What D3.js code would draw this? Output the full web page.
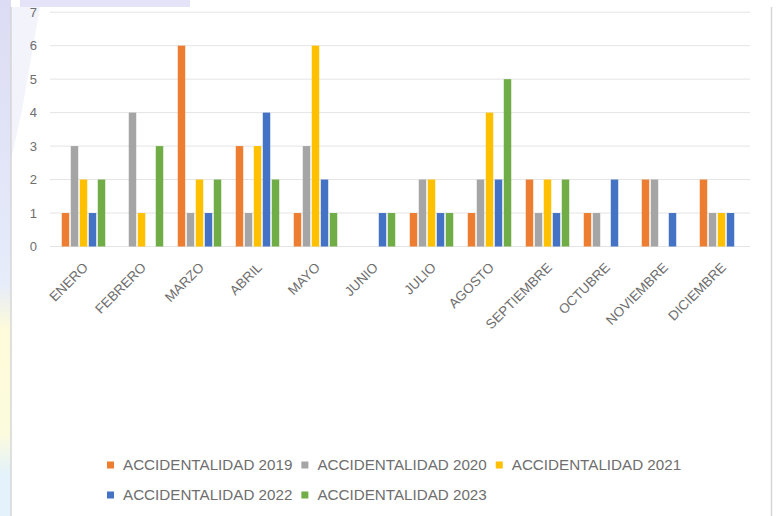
<!DOCTYPE html>
<html>
<head>
<meta charset="utf-8">
<script src="https://cdn.jsdelivr.net/npm/d3@7/dist/d3.min.js"></script>
<style>
  html, body { margin: 0; padding: 0; background: #ffffff; }
  svg { display: block; }
</style>
</head>
<body>
<svg id="chart" width="776" height="516"></svg>
<script>
// ---- data ----
const months = ["ENERO","FEBRERO","MARZO","ABRIL","MAYO","JUNIO","JULIO","AGOSTO","SEPTIEMBRE","OCTUBRE","NOVIEMBRE","DICIEMBRE"];
const seriesNames = ["ACCIDENTALIDAD 2019","ACCIDENTALIDAD 2020","ACCIDENTALIDAD 2021","ACCIDENTALIDAD 2022","ACCIDENTALIDAD 2023"];
const values2019 = [1,0,6,3,1,0,1,1,2,1,2,2];
const values2020 = [3,4,1,1,3,0,2,2,1,1,2,1];
const values2021 = [2,1,2,3,6,0,2,4,2,0,0,1];
const values2022 = [1,0,1,4,2,1,1,2,1,2,1,1];
const values2023 = [2,3,2,2,1,1,1,5,2,0,0,0];
const yTicks = [0,1,2,3,4,5,6,7];
const colors = ["#ED7D31","#A5A5A5","#FFC000","#4472C4","#70AD47"];

const allSeries = [values2019, values2020, values2021, values2022, values2023];

const svg = d3.select("#chart");

// ---- background watermark ----
const defs = svg.append("defs");
const lg = defs.append("linearGradient").attr("id","leftStrip").attr("x1",0).attr("y1",0).attr("x2",0).attr("y2",1);
lg.append("stop").attr("offset","0%").attr("stop-color","#dcdcf4");
lg.append("stop").attr("offset","55%").attr("stop-color","#e6ecfa");
lg.append("stop").attr("offset","64%").attr("stop-color","#fdfbd9");
lg.append("stop").attr("offset","84%").attr("stop-color","#fcfbdd");
lg.append("stop").attr("offset","92%").attr("stop-color","#e3f2fb");
lg.append("stop").attr("offset","100%").attr("stop-color","#e3f2fb");
svg.append("rect").attr("x",0).attr("y",0).attr("width",11).attr("height",516).attr("fill","url(#leftStrip)");
svg.append("rect").attr("x",20).attr("y",0).attr("width",170).attr("height",7).attr("fill","#e4e3f8");

// chart area
svg.append("rect").attr("x",11).attr("y",7).attr("width",760).attr("height",509).attr("fill","#ffffff");
svg.append("polygon").attr("points","11,7 40,7 22,110 11,160").attr("fill","#f3f3fc");
svg.append("line").attr("x1",11).attr("x2",11).attr("y1",7).attr("y2",516).attr("stroke","#d6d6d6").attr("stroke-width",1.5);
svg.append("line").attr("x1",771.5).attr("x2",771.5).attr("y1",7).attr("y2",516).attr("stroke","#d6d6d6").attr("stroke-width",1.5);

// ---- scales ----
const plotL = 54.5, plotR = 750.5;
const x = d3.scaleBand().domain(months).range([plotL, plotR]).paddingInner(0).paddingOuter(0);
const y = d3.scaleLinear().domain([0,7]).range([246.5, 12.2]);
const groupW = 43.5;
const xs = d3.scaleBand().domain(d3.range(5)).range([0, groupW]).paddingInner(0.17).paddingOuter(0);

// gridlines
svg.append("g").selectAll("line").data(yTicks).join("line")
  .attr("x1", 50).attr("x2", 750)
  .attr("y1", d => y(d)).attr("y2", d => y(d))
  .attr("stroke", "#e4e4e4").attr("stroke-width", 1);

// y axis labels
const yAxis = d3.axisLeft(y).tickValues(yTicks).tickFormat(d3.format("d")).tickSize(0).tickPadding(0);
const gy = svg.append("g").attr("transform", "translate(37,0)").call(yAxis);
gy.select(".domain").remove();
gy.selectAll("text").attr("font-family","Liberation Sans, Arial, sans-serif").attr("font-size","13px").attr("fill","#6e6e6e");

// bars
const groups = svg.append("g").selectAll("g").data(months).join("g")
  .attr("transform", d => `translate(${x(d) + (x.bandwidth() - groupW)/2},0)`);
groups.selectAll("rect")
  .data((m, i) => allSeries.map((s, k) => ({k, v: s[i]})).filter(d => d.v > 0))
  .join("rect")
  .attr("x", d => xs(d.k))
  .attr("width", xs.bandwidth())
  .attr("y", d => y(d.v))
  .attr("height", d => y(0) - y(d.v))
  .attr("fill", d => colors[d.k]);

// x axis labels
const xAxis = d3.axisBottom(x).tickSize(0).tickPadding(0);
const gx = svg.append("g").call(xAxis);
gx.select(".domain").remove();
gx.selectAll(".tick").attr("transform", d => `translate(${x(d) + x.bandwidth()/2 + 2},265)`);
gx.selectAll("text")
  .attr("y", 0).attr("x", 0).attr("dy", "0.35em")
  .attr("text-anchor", "end")
  .attr("transform", "rotate(-45)")
  .attr("font-family","Liberation Sans, Arial, sans-serif")
  .attr("font-size","13.5px")
  .attr("fill","#6e6e6e");

// legend
const legendRows = [[0,1,2],[3,4]];
const rowY = [465, 495];
const legend = svg.append("g");
legendRows.forEach((row, ri) => {
  let cx = 107;
  row.forEach(k => {
    legend.append("rect").attr("x", cx).attr("y", rowY[ri]-3.5).attr("width", 7).attr("height", 7).attr("fill", colors[k]);
    const t = legend.append("text").attr("x", cx + 16).attr("y", rowY[ri]).attr("dy","0.36em")
      .attr("font-family","Liberation Sans, Arial, sans-serif").attr("font-size","15.2px")
      .attr("fill","#6e6e6e").text(seriesNames[k]);
    const w = t.node().getComputedTextLength();
    cx = cx + 16 + w + 9;
  });
});
</script>
</body>
</html>
